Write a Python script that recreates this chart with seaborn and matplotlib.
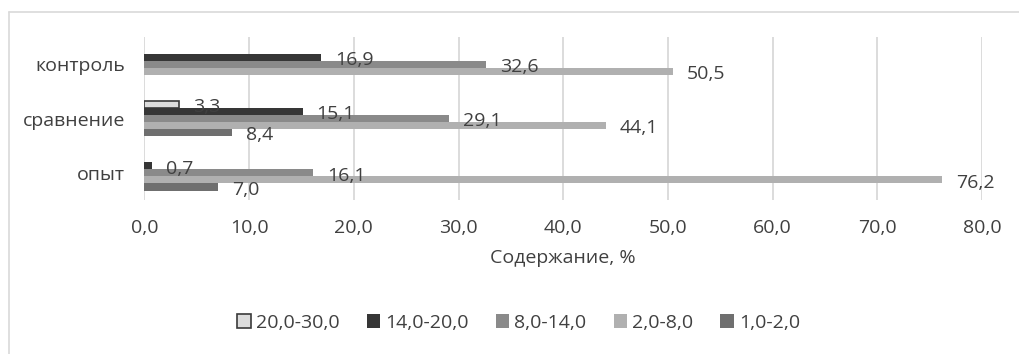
import numpy as np
import pandas as pd
import matplotlib
matplotlib.use("Agg")
import matplotlib.pyplot as plt
from matplotlib.lines import Line2D
import seaborn as sns

# Data: share of each fraction per variant, %
groups = ["контроль", "сравнение", "опыт"]
ranges = ["20,0-30,0", "14,0-20,0", "8,0-14,0", "2,0-8,0", "1,0-2,0"]
r_20_30 = [np.nan, 3.3, np.nan]
r_14_20 = [16.9, 15.1, 0.7]
r_8_14 = [32.6, 29.1, 16.1]
r_2_8 = [50.5, 44.1, 76.2]
r_1_2 = [np.nan, 8.4, 7.0]
x_ticks = [0, 10, 20, 30, 40, 50, 60, 70, 80]

series = [r_20_30, r_14_20, r_8_14, r_2_8, r_1_2]
rows = []
for rng, vals in zip(ranges, series):
    for g, v in zip(groups, vals):
        if not np.isnan(v):
            rows.append({"group": g, "range": rng, "value": v})
df = pd.DataFrame(rows)

fills = ["#dcdcdc", "#363636", "#8a8a8a", "#b0b0b0", "#6f6f6f"]
edges = ["#3a3a3a", "#363636", "#8a8a8a", "#b0b0b0", "#6f6f6f"]
text_color = "#404040"
grid_color = "#d9d9d9"

sns.set_theme(style="white")
plt.rcParams["font.family"] = ["Open Sans", "DejaVu Sans"]
plt.rcParams["text.color"] = text_color
plt.rcParams["axes.labelcolor"] = text_color
plt.rcParams["xtick.color"] = text_color
plt.rcParams["ytick.color"] = text_color

fig = plt.figure(figsize=(10.19, 3.54), dpi=100)
ax = fig.add_axes([0.1418, 0.435, 0.8219, 0.4605])

sns.barplot(data=df, y="group", x="value", hue="range", order=groups,
            hue_order=ranges, orient="h", width=0.65, dodge=True,
            errorbar=None, palette=fills, saturation=1, ax=ax,
            linewidth=0)

for cont, ec, fc in zip(ax.containers, edges, fills):
    for patch in cont:
        patch.set_facecolor(fc)
        if fc == "#dcdcdc":
            patch.set_edgecolor(ec)
            patch.set_linewidth(1.2)
    labels = [f"{v:.1f}".replace(".", ",") for v in cont.datavalues]
    texts = ax.bar_label(cont, labels=labels, padding=10, fontsize=14,
                         color=text_color)
    for t in texts:
        x0, y0 = t.xyann
        t.xyann = (x0, y0 - 2)

ax.set_xlim(0, 80)
ax.set_xticks(x_ticks)
ax.set_xticklabels([f"{t:.1f}".replace(".", ",") for t in x_ticks], fontsize=14)
ax.set_ylim(2.5, -0.5)
ax.tick_params(axis="y", labelsize=14, pad=14, length=0)
ax.tick_params(axis="x", pad=14, length=0)
ax.set_ylabel("")
ax.set_xlabel("Содержание, %", fontsize=14, labelpad=8)
ax.grid(axis="x", color=grid_color, linewidth=1.3)
ax.set_axisbelow(True)
for s in ax.spines.values():
    s.set_visible(False)

ax.legend_.remove()
handles = []
for fc, ec in zip(fills, edges):
    handles.append(plt.Rectangle((0, 0), 1, 1, facecolor=fc, edgecolor=ec,
                                 linewidth=1.2 if fc == "#dcdcdc" else 0))
fig.legend(handles, ranges, loc="center", bbox_to_anchor=(0.509, 0.0876),
           ncol=5, frameon=False, fontsize=14, handlelength=0.7,
           handleheight=0.7, handletextpad=0.25, columnspacing=1.4)

# chart frame
fig.add_artist(Line2D([9 / 1019, 9 / 1019], [0, 1 - 12 / 354],
                      transform=fig.transFigure, color=grid_color, lw=1.2))
fig.add_artist(Line2D([9 / 1019, 1], [1 - 12 / 354, 1 - 12 / 354],
                      transform=fig.transFigure, color=grid_color, lw=1.2))

fig.savefig("out.png", dpi=100, facecolor="white")
